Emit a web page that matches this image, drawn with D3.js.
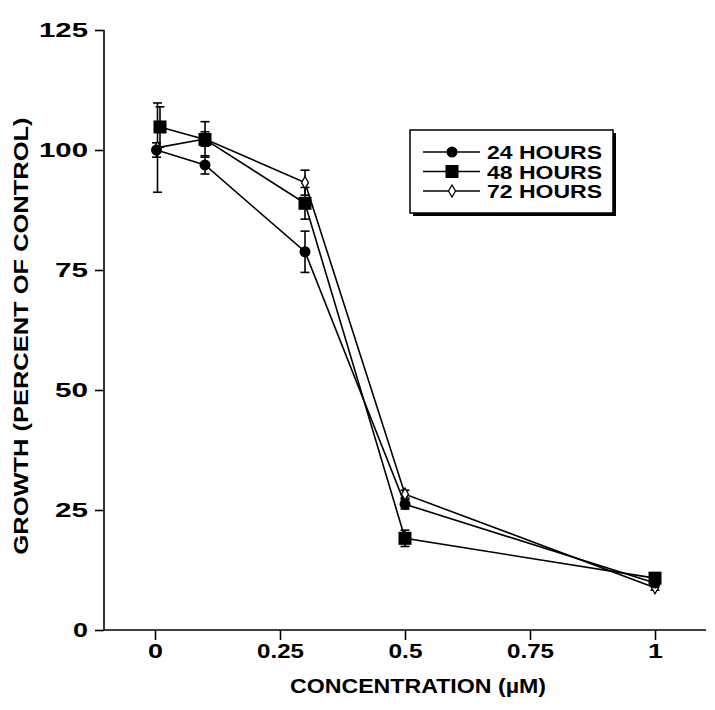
<!DOCTYPE html>
<html><head><meta charset="utf-8">
<script src="https://cdn.jsdelivr.net/npm/d3@7"></script>
<style>body{margin:0;background:#fff}text{font-family:"Liberation Sans",Arial,sans-serif;font-weight:bold;fill:#000}</style>
</head><body><svg id="c" width="715" height="710"></svg>
<script>
const seriesNames = ["24 HOURS","48 HOURS","72 HOURS"];
const conc24 = [0.003,0.1,0.3,0.5,1];
const growth24 = [100,96.9,78.8,26.2,9.8];
const err24 = [1.5,1.9,4.3,1.0,0.8];
const conc48 = [0.01,0.1,0.3,0.5,1];
const growth48 = [104.8,102.2,88.9,19.1,10.8];
const err48 = [4.2,3.7,3.3,1.7,0.8];
const conc72 = [0.005,0.1,0.3,0.5,1];
const growth72 = [100.5,102.3,93.2,28.3,8.8];
const err72 = [9.3,1.5,2.6,0.8,0.5];
const xTicks = [0,0.25,0.5,0.75,1];
const xTickLabels = ["0","0.25","0.5","0.75","1"];
const yTicks = [0,25,50,75,100,125];

const svg = d3.select("#c");
svg.append("rect").attr("width",715).attr("height",710).attr("fill","#fff");
const x = d3.scaleLinear().domain([0,1]).range([155,655]);
const y = d3.scaleLinear().domain([0,125]).range([630,30]);

function fitText(sel, w){ sel.attr("textLength", w).attr("lengthAdjust","spacingAndGlyphs"); return sel; }

// axes
const xAxis = svg.append("g").attr("transform","translate(0,630)")
  .call(d3.axisBottom(x).tickValues(xTicks).tickFormat((d,i)=>xTickLabels[i]).tickSize(10).tickSizeOuter(0));
xAxis.select(".domain").remove();
svg.append("line").attr("x1",104).attr("x2",706).attr("y1",630).attr("y2",630).attr("stroke","#000").attr("stroke-width",1.6);
xAxis.selectAll(".tick line").attr("stroke","#000").attr("stroke-width",1.6);
xAxis.selectAll(".tick text").attr("font-size",21).attr("dy",null).attr("y",28)
  .each(function(d,i){ const n=xTickLabels[i].length; fitText(d3.select(this), n===1?15:(n===3?34:47)); });

const yAxis = svg.append("g").attr("transform","translate(104,0)")
  .call(d3.axisLeft(y).tickValues(yTicks).tickSize(9).tickSizeOuter(0));
yAxis.select(".domain").attr("stroke","#000").attr("stroke-width",1.6).attr("d","M0,30V630");
yAxis.selectAll(".tick line").attr("stroke","#000").attr("stroke-width",1.6);
yAxis.selectAll(".tick text").attr("font-size",21).attr("x",-16)
  .each(function(d){ const n=String(d).length; fitText(d3.select(this), n===1?15:(n===2?33:49)); });

// titles
fitText(svg.append("text").attr("transform","translate(28,336) rotate(-90)").attr("text-anchor","middle")
  .attr("font-size",20).text("GROWTH (PERCENT OF CONTROL)"), 437);
fitText(svg.append("text").attr("x",418).attr("y",693).attr("text-anchor","middle")
  .attr("font-size",20).text("CONCENTRATION (\u00B5M)"), 256);

// data
const series = [
  {name:seriesNames[0], xs:conc24, ys:growth24, es:err24, shape:"circle"},
  {name:seriesNames[1], xs:conc48, ys:growth48, es:err48, shape:"square"},
  {name:seriesNames[2], xs:conc72, ys:growth72, es:err72, shape:"diamond"}
];
const line = d3.line().x(d=>x(d[0])).y(d=>y(d[1]));
series.forEach(s=>{
  const pts = s.xs.map((v,i)=>[v,s.ys[i],s.es[i]]);
  svg.append("path").attr("d",line(pts)).attr("fill","none").attr("stroke","#000").attr("stroke-width",1.6);
});
series.forEach(s=>{
  const pts = s.xs.map((v,i)=>[v,s.ys[i],s.es[i]]);
  const g = svg.append("g");
  pts.forEach(p=>{
    const cx=x(p[0]), t=y(p[1]+p[2]), b=y(p[1]-p[2]);
    g.append("line").attr("x1",cx).attr("x2",cx).attr("y1",t).attr("y2",b).attr("stroke","#000").attr("stroke-width",1.6);
    [t,b].forEach(yy=>g.append("line").attr("x1",cx-4.5).attr("x2",cx+4.5).attr("y1",yy).attr("y2",yy).attr("stroke","#000").attr("stroke-width",1.6));
  });
});
function marker(g, shape, cx, cy){
  if(shape==="circle") g.append("circle").attr("cx",cx).attr("cy",cy).attr("r",5.5).attr("fill","#000");
  else if(shape==="square") g.append("rect").attr("x",cx-6.5).attr("y",cy-6.5).attr("width",13).attr("height",13).attr("fill","#000");
  else g.append("path").attr("d",`M${cx},${cy-6}L${cx+3.5},${cy}L${cx},${cy+6}L${cx-3.5},${cy}Z`).attr("fill","#fff").attr("stroke","#000").attr("stroke-width",1.3);
}
[series[2],series[1],series[0]].forEach(s=>{
  const g = svg.append("g");
  s.xs.forEach((v,i)=>marker(g, s.shape, x(v), y(s.ys[i])));
});

// legend
const lg = svg.append("g");
lg.append("rect").attr("x",413).attr("y",133).attr("width",203).attr("height",83).attr("fill","#000");
lg.append("rect").attr("x",410).attr("y",130).attr("width",203).attr("height",83).attr("fill","#fff").attr("stroke","#000").attr("stroke-width",1.5);
series.forEach((s,i)=>{
  const yy = 152 + i*19.5;
  lg.append("line").attr("x1",423).attr("x2",480).attr("y1",yy).attr("y2",yy).attr("stroke","#000").attr("stroke-width",1.5);
  marker(lg, s.shape, 452, yy);
  fitText(lg.append("text").attr("x",487).attr("y",yy+7).attr("font-size",19).text(s.name), 115);
});
</script></body></html>
